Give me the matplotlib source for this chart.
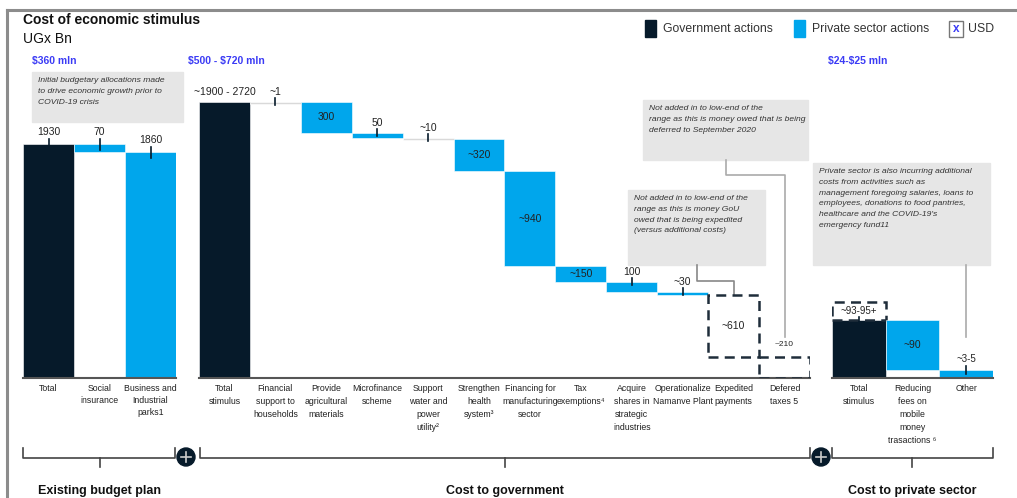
import matplotlib
matplotlib.use("Agg")
import matplotlib.pyplot as plt
from matplotlib.patches import Rectangle, Circle

plt.rcParams['font.family'] = ['Liberation Sans', 'DejaVu Sans']

# Données
budget_labels = ["Total", "Social\ninsurance", "Business and\nIndustrial\nparks1"]
budget_values = [1930, 70, 1860]
budget_text = ["1930", "70", "1860"]

gov_labels = ["Total\nstimulus", "Financial\nsupport to\nhouseholds", "Provide\nagricultural\nmaterials",
              "Microfinance\nscheme", "Support\nwater and\npower\nutility²", "Strengthen\nhealth\nsystem³",
              "Financing for\nmanufacturing\nsector", "Tax\nexemptions⁴", "Acquire\nshares in\nstrategic\nindustries",
              "Operationalize\nNamanve Plant", "Expedited\npayments", "Defered\ntaxes 5"]
gov_values = [2720, 1, 300, 50, 10, 320, 940, 150, 100, 30, 610, 210]
gov_text = ["~1900 - 2720", "~1", "300", "50", "~10", "~320", "~940", "~150", "100", "~30", "~610", "~210"]

private_labels = ["Total\nstimulus", "Reducing\nfees on\nmobile\nmoney\ntrasactions ⁶", "Other"]
private_values = [105, 90, 15]
private_upside = 32
private_text = ["~93-95+", "~90", "~3-5"]

DARK = "#061a2a"
BLUE = "#00a6ec"
GREY_BOX = "#e6e6e6"
USD_BLUE = "#3b3bf5"
TXT = "#222222"

W, H = 1017, 498
BASE = 378

fig = plt.figure(figsize=(W / 100, H / 100), dpi=100)

# calque pour annotations en pixels
ov = fig.add_axes([0, 0, 1, 1])
ov.set_xlim(0, W)
ov.set_ylim(H, 0)
ov.axis('off')


def panel(x0, x1, top_px, units_per_px, n):
    ax = fig.add_axes([x0 / W, 1 - BASE / H, (x1 - x0) / W, (BASE - top_px) / H])
    ax.set_xlim(-0.5, n - 0.5)
    ax.set_ylim(0, (BASE - top_px) * units_per_px)
    ax.patch.set_alpha(0)
    for s in ['top', 'right', 'left']:
        ax.spines[s].set_visible(False)
    ax.spines['bottom'].set_color("#555555")
    ax.spines['bottom'].set_linewidth(1.5)
    ax.set_yticks([])
    ax.tick_params(axis='x', length=0, pad=4)
    return ax


def tick_mark(ax, x, y, upp, up=5, down=6):
    ax.plot([x, x], [y - down * upp, y + up * upp], color=DARK, lw=1.2, clip_on=False, zorder=5)


# cadre
ov.plot([7, W], [10, 10], color="#8c8c8c", lw=2.2)
ov.plot([7, 7], [10, H], color="#8c8c8c", lw=2.2)

# titres
ov.text(23, 20, "Cost of economic stimulus", fontsize=10, fontweight='bold', va='center', color="#111111")
ov.text(23, 39, "UGx Bn", fontsize=10, va='center', color="#111111")
ov.text(32, 61, r"\$360 mln", fontsize=7.5, fontweight='bold', color=USD_BLUE, va='center')
ov.text(188, 61, r"\$500 - \$720 mln", fontsize=7.5, fontweight='bold', color=USD_BLUE, va='center')
ov.text(828, 61, r"\$24-\$25 mln", fontsize=7.5, fontweight='bold', color=USD_BLUE, va='center')

# légende
ov.add_patch(Rectangle((645, 20), 11, 17, color=DARK))
ov.text(663, 29, "Government actions", fontsize=8.8, va='center', color="#333333")
ov.add_patch(Rectangle((794, 20), 11, 17, color=BLUE))
ov.text(812, 29, "Private sector actions", fontsize=8.8, va='center', color="#333333")
ov.add_patch(Rectangle((949, 21), 14, 16, facecolor='white', edgecolor="#777777", lw=1))
ov.text(956, 29, "x", fontsize=8.5, fontweight='bold', color=USD_BLUE, ha='center', va='center')
ov.text(968, 29, "USD", fontsize=8.8, va='center', color="#333333")

# encadrés gris
notes = [
    (32, 72, 151, 50, "Initial budgetary allocations made\nto drive economic growth prior to\nCOVID-19 crisis"),
    (643, 100, 165, 60, "Not added in to low-end of the\nrange as this is money owed that is being\ndeferred to September 2020"),
    (628, 190, 137, 75, "Not added in to low-end of the\nrange as this is money GoU\nowed that is being expedited\n(versus additional costs)"),
    (813, 163, 177, 102, "Private sector is also incurring additional\ncosts from activities such as\nmanagement foregoing salaries, loans to\nemployees, donations to food pantries,\nhealthcare and the COVID-19's\nemergency fund11"),
]
for x, y, w, h, txt in notes:
    ov.add_patch(Rectangle((x, y), w, h, color=GREY_BOX, zorder=1))
    ov.text(x + 6, y + 5, txt, fontsize=6.1, style='italic', color="#333333", va='top', ha='left',
            linespacing=1.75, zorder=2)

# lignes de rappel
ov.plot([726, 726, 785, 785], [160, 175, 175, 337], color="#aaaaaa", lw=1.2)
ov.plot([697, 697, 734, 734], [265, 281, 281, 295], color="#888888", lw=1.2)
ov.plot([966, 966], [265, 337], color="#aaaaaa", lw=1.2)

# --- Budget existant ---
upp_b = 1930 / 234
axb = panel(23, 176, 60, upp_b, 3)
bottoms_b = [0, budget_values[0] - budget_values[1], 0]
heights_b = [budget_values[0], budget_values[1], budget_values[2]]
colors_b = [DARK, BLUE, BLUE]
axb.bar(range(3), heights_b, bottom=bottoms_b, width=1.0, color=colors_b, edgecolor='white', linewidth=0.4)
for i in range(3):
    top = bottoms_b[i] + heights_b[i]
    axb.text(i, top + 7 * upp_b, budget_text[i], ha='center', va='bottom', fontsize=7.5, color=TXT)
    tick_mark(axb, i, top, upp_b)
axb.set_xticks(range(3))
axb.set_xticklabels(budget_labels, fontsize=6.3, color=TXT, linespacing=1.45)

# --- Coût pour le gouvernement ---
upp_g = 2720 / 276
axg = panel(199, 810, 60, upp_g, len(gov_values))
level = gov_values[0]
for i, v in enumerate(gov_values):
    if i == 0:
        bottom, top = 0, v
    else:
        bottom, top = level - v, level
        level = bottom
    if i in (10, 11):
        axg.bar(i, v, bottom=bottom, width=1.0, fill=False, edgecolor="#1f2d3a",
                linestyle=(0, (4, 2.5)), linewidth=1.8, zorder=3)
    else:
        if i == 0:
            c = DARK
        elif i in (1, 4):
            c = "#d9d9d9"
        else:
            c = BLUE
        h = v if v > 12 else 20
        axg.bar(i, h, bottom=top - h, width=1.0, color=c, edgecolor='white', linewidth=0.4)
    if i in (2, 5, 6, 7, 10):
        axg.text(i, (bottom + top) / 2, gov_text[i], ha='center', va='center', fontsize=7.5, color=TXT)
    elif i == 11:
        axg.text(i, top + 9 * upp_g, gov_text[i], ha='center', va='bottom', fontsize=6, color=TXT)
    else:
        axg.text(i, top + 5 * upp_g, gov_text[i], ha='center', va='bottom', fontsize=7.5, color=TXT)
        if i != 0:
            tick_mark(axg, i, top, upp_g, up=4, down=3)
axg.set_xticks(range(len(gov_values)))
axg.set_xticklabels(gov_labels, fontsize=6.3, color=TXT, linespacing=1.6, va='top')

# --- Secteur privé ---
upp_p = 105 / 58
axp = panel(832, 993, 60, upp_p, 3)
axp.bar(0, private_values[0], width=1.0, color=DARK, edgecolor='white', linewidth=0.4)
axp.bar(0, private_upside, bottom=private_values[0], width=1.0, fill=False, edgecolor="#1f2d3a",
        linestyle=(0, (4, 2.5)), linewidth=1.8)
axp.bar(1, private_values[1], bottom=private_values[2], width=1.0, color=BLUE, edgecolor='white', linewidth=0.4)
axp.bar(2, private_values[2], width=1.0, color=BLUE, edgecolor='white', linewidth=0.4)
axp.text(0, private_values[0] + private_upside / 2, private_text[0], ha='center', va='center', fontsize=7, color=TXT)
tick_mark(axp, 0, private_values[0], upp_p, up=3, down=8)
axp.text(1, private_values[2] + private_values[1] / 2, private_text[1], ha='center', va='center', fontsize=7.5, color=TXT)
axp.text(2, private_values[2] + 6 * upp_p, private_text[2], ha='center', va='bottom', fontsize=7, color=TXT)
tick_mark(axp, 2, private_values[2], upp_p, up=4, down=4)
axp.set_xticks(range(3))
axp.set_xticklabels(private_labels, fontsize=6.3, color=TXT, linespacing=1.6, va='top')

# accolades du bas
brackets = [(23, 175, 100, "Existing budget plan"),
            (200, 810, 505, "Cost to government"),
            (832, 993, 912, "Cost to private sector")]
for x0, x1, xc, lab in brackets:
    ov.plot([x0, x0, x1, x1], [448, 458, 458, 448], color="#444444", lw=1.2)
    ov.plot([xc, xc], [458, 467], color="#444444", lw=1.2)
    ov.text(xc, 491, lab, ha='center', va='center', fontsize=9, fontweight='bold', color="#111111")

for cx in (186, 821):
    ov.add_patch(Circle((cx, 457), 9, color=DARK, zorder=5))
    ov.plot([cx - 5, cx + 5], [457, 457], color="#cccccc", lw=1.2, zorder=6)
    ov.plot([cx, cx], [452, 462], color="#cccccc", lw=1.2, zorder=6)

fig.savefig("out.png", dpi=100)
